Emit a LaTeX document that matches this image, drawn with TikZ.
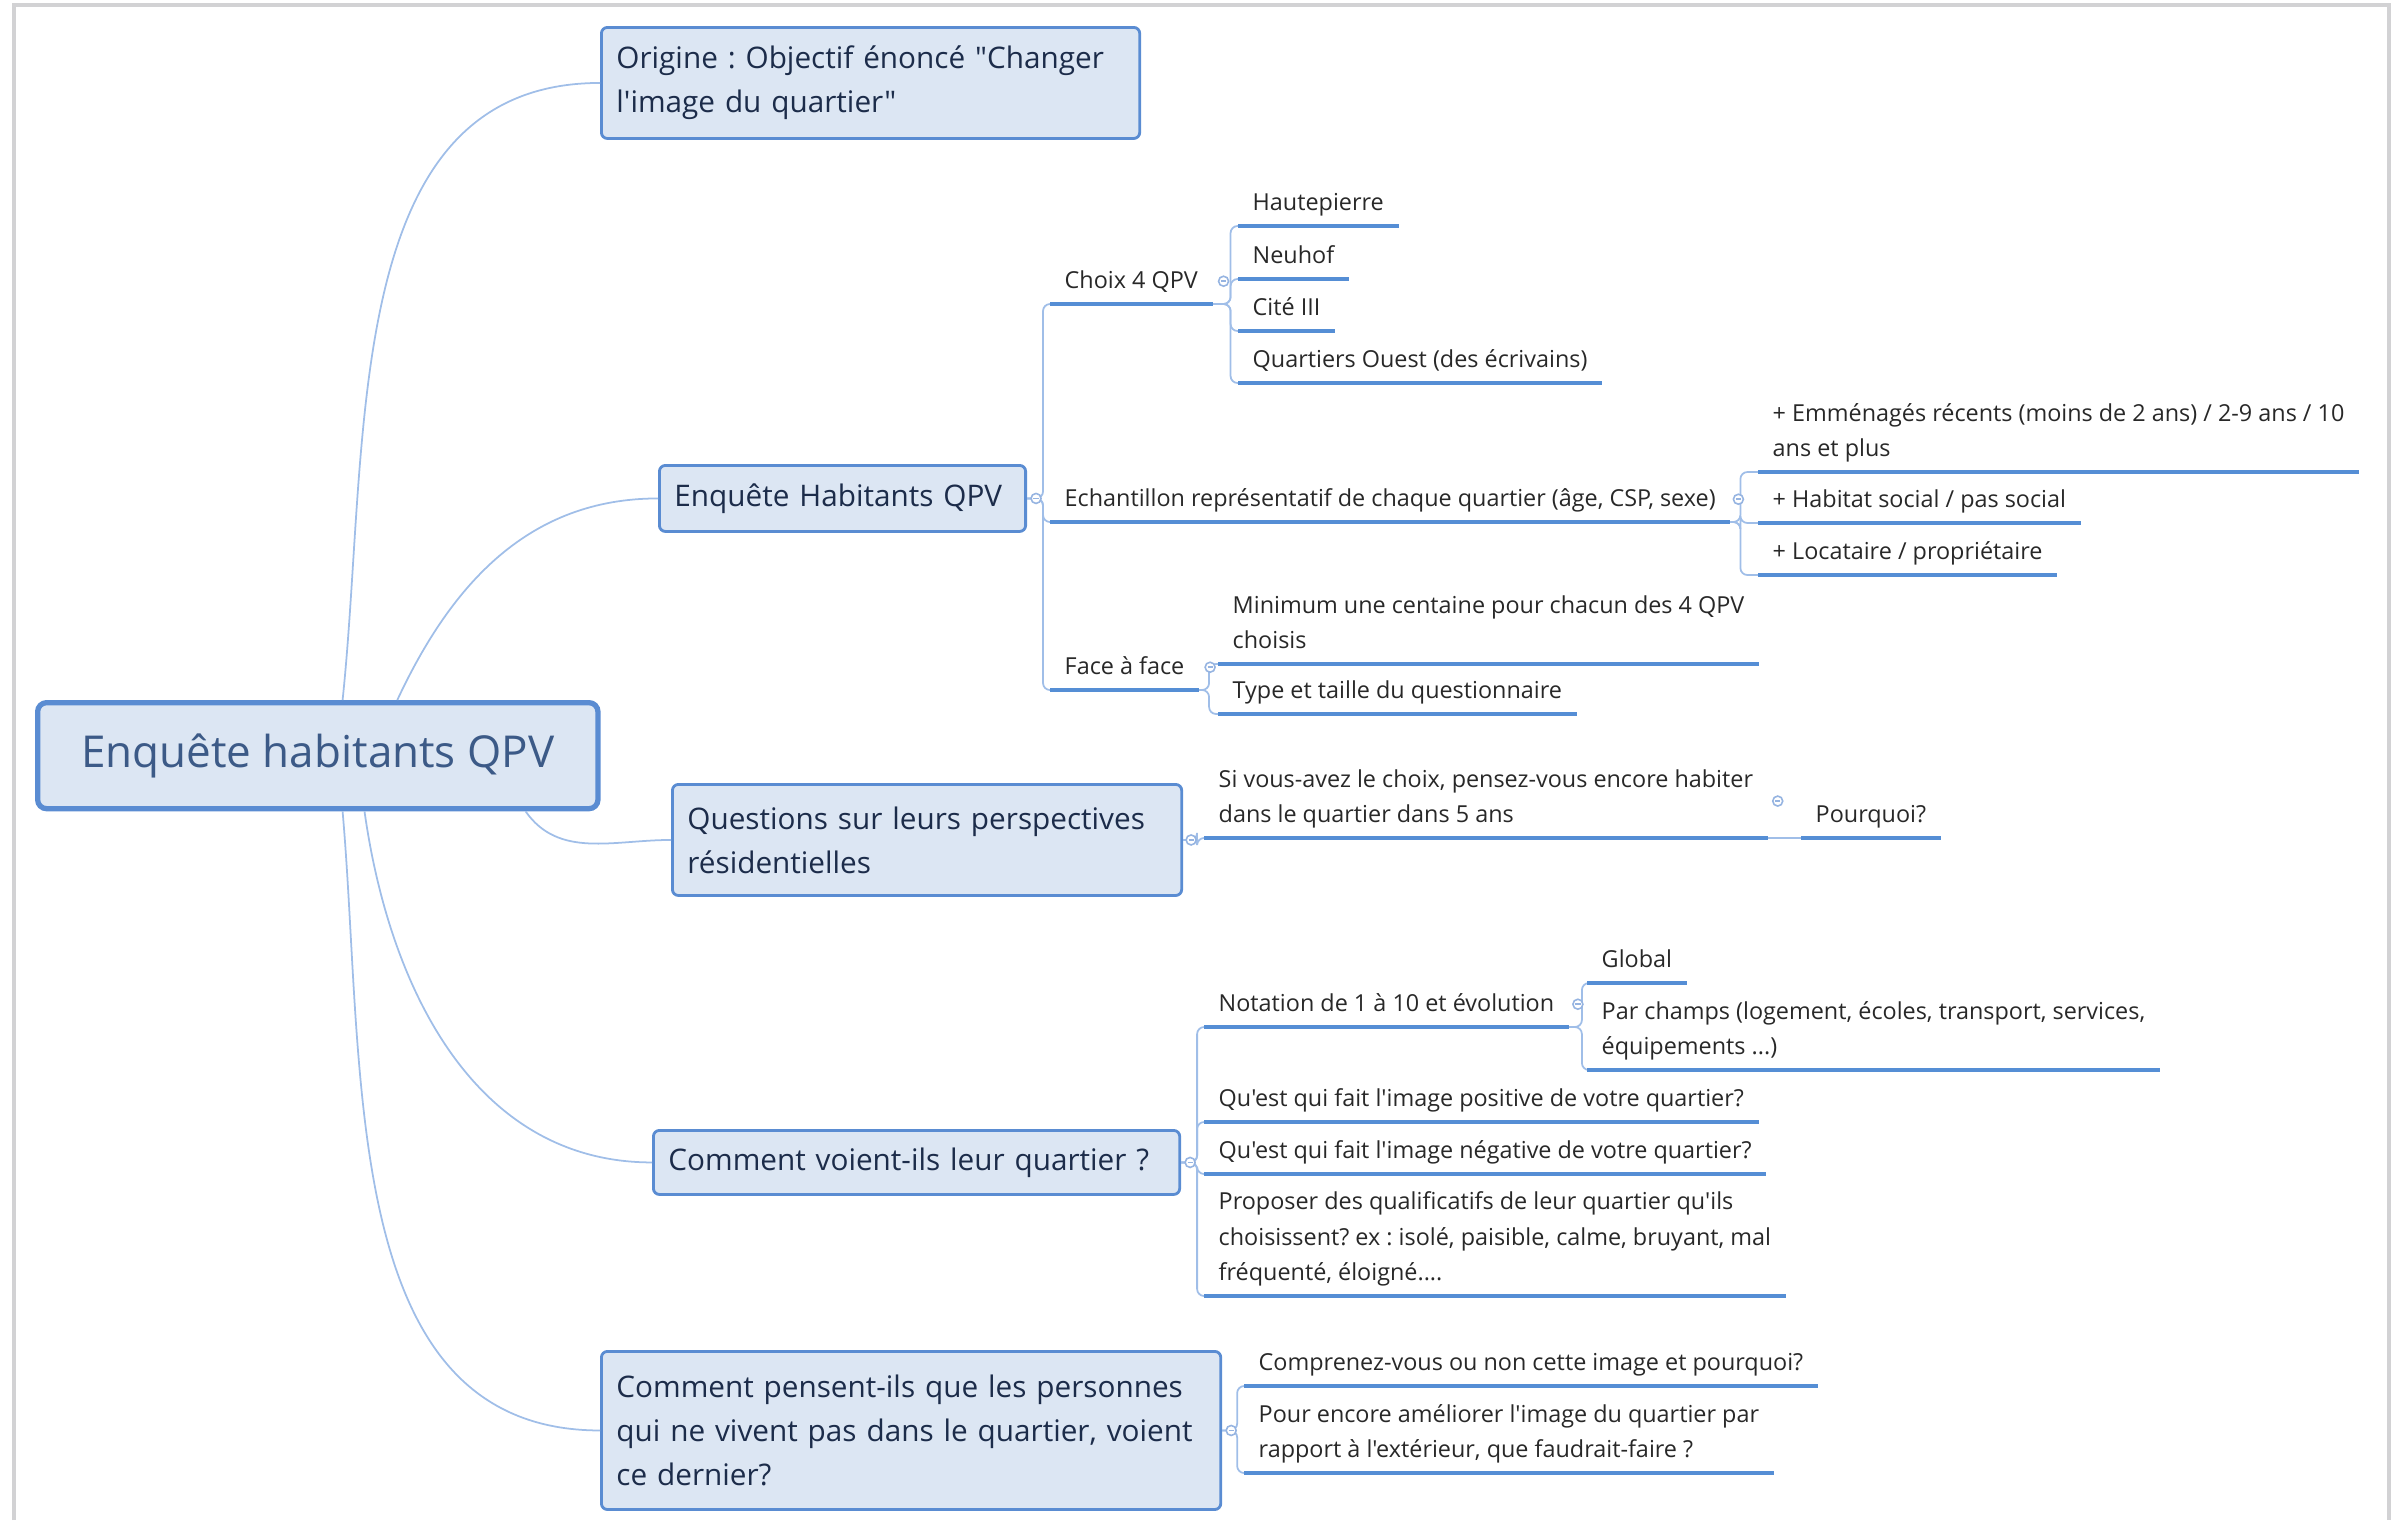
\documentclass[tikz,border=0pt]{standalone}
\usepackage{fontspec}
\setmainfont{Open Sans}[Ligatures=TeXOff]
\usetikzlibrary{calc}
\definecolor{boxfill}{RGB}{220,230,243}
\definecolor{boxline}{RGB}{90,140,210}
\definecolor{roottxt}{RGB}{60,90,135}
\definecolor{topictxt}{RGB}{28,44,74}
\definecolor{leaftxt}{RGB}{40,40,40}
\definecolor{uline}{RGB}{85,142,213}
\definecolor{branch}{RGB}{160,190,232}
\definecolor{markcol}{RGB}{150,180,225}
\definecolor{framecol}{RGB}{210,210,212}

\tikzset{
  rootbox/.style={draw=boxline,fill=boxfill,line width=1.5pt,rounded corners=0.09cm,
    anchor=north west,align=center,text=roottxt,font=\fontsize{12.5}{15}\selectfont},
  topic/.style={draw=boxline,fill=boxfill,line width=0.8pt,rounded corners=0.06cm,
    anchor=north west,inner xsep=0.15cm,align=left,text=topictxt,
    font=\fontsize{8.45}{12.5}\selectfont},
  leaf/.style={anchor=south west,inner xsep=0.14cm,inner ysep=0.045cm,align=left,
    text=leaftxt,font=\fontsize{6.65}{10}\selectfont,execute at end node=\strut},
  conn/.style={draw=branch,line width=0.5pt,rounded corners=0.07cm},
  underl/.style={draw=uline,line width=1.3pt},
  marker/.style={draw=markcol,fill=white,line width=0.45pt},
}
% small collapse sign next to a parent
\newcommand{\collapsemark}[1]{%
  \draw[marker] (#1) circle (0.05cm);
  \draw[markcol,line width=0.45pt] ($(#1)+(-2.6,0)$) -- ($(#1)+(2.6,0)$);}

\begin{document}
\frenchspacing
\begin{tikzpicture}[x=0.01cm,y=-0.01cm]
  \useasboundingbox (0,0) rectangle (2393,1520);
  \draw[framecol,line width=0.9pt] (14,1520) -- (14,5) -- (2389,5) -- (2389,1520);

  % root and main topics
  \node[rootbox,minimum width=5.6cm,minimum height=1.06cm] (root) at (35,700)
      {Enquête habitants QPV};
  \node[topic,minimum height=1.11cm,text width=5.08cm] (origine) at (600,26)
      {Origine : Objectif énoncé "Changer\\l'image du quartier"};
  \node[topic,minimum height=0.66cm,text width=3.36cm] (enqH) at (658,464)
      {Enquête Habitants QPV};
  \node[topic,minimum height=1.11cm,text width=4.79cm] (quest) at (671,783)
      {Questions sur leurs perspectives\\résidentielles};
  \node[topic,minimum height=0.64cm,text width=4.96cm] (voient) at (652,1129)
      {Comment voient-ils leur quartier ?};
  \node[topic,minimum height=1.58cm,text width=5.89cm] (pensent) at (600,1350)
      {Comment pensent-ils que les personnes\\qui ne vivent pas dans le quartier, voient\\ce dernier?};

  % Enquete Habitants QPV
  \node[leaf] (choix)  at (1050,304) {Choix 4 QPV};
  \node[leaf] (echant) at (1050,522) {Echantillon représentatif de chaque quartier (âge, CSP, sexe)};
  \node[leaf] (face)   at (1050,690) {Face à face};
  \node[leaf] (haut)   at (1238,226) {Hautepierre};
  \node[leaf] (neuhof) at (1238,279) {Neuhof};
  \node[leaf] (cite)   at (1238,331) {Cité III};
  \node[leaf] (ouest)  at (1238,383) {Quartiers Ouest (des écrivains)};
  \node[leaf] (emm)    at (1758,472) {+ Emménagés récents (moins de 2 ans) / 2-9 ans / 10\\ans et plus};
  \node[leaf] (habitat) at (1758,523) {+ Habitat social / pas social};
  \node[leaf] (locat)  at (1758,575) {+ Locataire / propriétaire};
  \node[leaf] (minimum) at (1218,664) {Minimum une centaine pour chacun des 4 QPV\\choisis};
  \node[leaf] (typeq)  at (1218,714) {Type et taille du questionnaire};

  % perspectives
  \node[leaf] (sivous)   at (1204,838) {Si vous-avez le choix, pensez-vous encore habiter\\dans le quartier dans 5 ans};
  \node[leaf] (pourquoi) at (1801,838) {Pourquoi?};

  % image du quartier
  \node[leaf] (notation) at (1204,1027) {Notation de 1 à 10 et évolution};
  \node[leaf] (global)   at (1587,983)  {Global};
  \node[leaf] (parch)    at (1587,1070) {Par champs (logement, écoles, transport, services,\\équipements ...)};
  \node[leaf] (positive) at (1204,1122) {Qu'est qui fait l'image positive de votre quartier?};
  \node[leaf] (negative) at (1204,1174) {Qu'est qui fait l'image négative de votre quartier?};
  \node[leaf] (proposer) at (1204,1296) {Proposer des qualificatifs de leur quartier qu'ils\\choisissent? ex : isolé, paisible, calme, bruyant, mal\\fréquenté, éloigné....};
  \node[leaf] (comprenez) at (1244,1386) {Comprenez-vous ou non cette image et pourquoi?};
  \node[leaf] (pourenc)   at (1244,1473) {Pour encore améliorer l'image du quartier par\\rapport à l'extérieur, que faudrait-faire ?};

  % branches from the root
  \draw[conn] (root.66)  to[out=84,in=180] (origine.west);
  \draw[conn] (root.35)  to[out=65,in=180] (enqH.west);
  \draw[conn] (root.-15) to[out=-55,in=180] (quest.west);
  \draw[conn] (root.-50) to[out=-82,in=180] (voient.west);
  \draw[conn] (root.-66) to[out=-85,in=180] (pensent.west);

  % sub branches
  \foreach \c in {choix,echant,face}
    \draw[conn] (enqH.east) -- ++(16,0) |- (\c.south west);
  \foreach \c in {haut,neuhof,cite,ouest}
    \draw[conn] (choix.south east) -- ++(18,0) |- (\c.south west);
  \foreach \c in {emm,habitat,locat}
    \draw[conn] (echant.south east) -- ++(10,0) |- (\c.south west);
  \foreach \c in {minimum,typeq}
    \draw[conn] (face.south east) -- ++(10,0) |- (\c.south west);
  \draw[conn] (quest.east) -- ++(14,0) |- (sivous.south west);
  \draw[conn] (sivous.south east) -- (pourquoi.south west);
  \foreach \c in {notation,positive,negative,proposer}
    \draw[conn] (voient.east) -- ++(16,0) |- (\c.south west);
  \foreach \c in {global,parch}
    \draw[conn] (notation.south east) -- ++(13,0) |- (\c.south west);
  \foreach \c in {comprenez,pourenc}
    \draw[conn] (pensent.east) -- ++(15,0) |- (\c.south west);

  % underlines of the leaves
  \foreach \n in {choix,echant,face,haut,neuhof,cite,ouest,emm,habitat,locat,
      minimum,typeq,sivous,pourquoi,notation,global,parch,positive,negative,
      proposer,comprenez,pourenc}
    \draw[underl] (\n.south west) -- (\n.south east);

  % collapse signs
  \collapsemark{$(enqH.east)+(9,0)$}
  \collapsemark{$(choix.east)+(11,0)$}
  \collapsemark{$(echant.east)+(8,0)$}
  \collapsemark{$(face.east)+(11,0)$}
  \collapsemark{$(quest.east)+(8,0)$}
  \collapsemark{$(sivous.east)+(10,0)$}
  \collapsemark{$(voient.east)+(9,0)$}
  \collapsemark{$(notation.east)+(9,0)$}
  \collapsemark{$(pensent.east)+(9,0)$}
\end{tikzpicture}
\end{document}
